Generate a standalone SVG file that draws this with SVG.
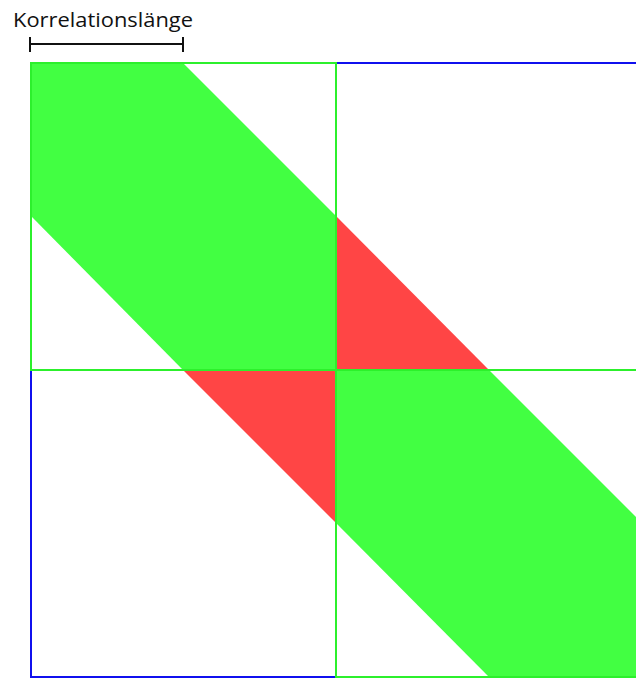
<svg xmlns="http://www.w3.org/2000/svg" width="636" height="678" viewBox="0 0 636 678">
<style>
.g{fill:#42ff42}
.r{fill:#ff4545}
.sq{fill:none;stroke:#2cf02c;stroke-width:2}
.outer{fill:none;stroke:#1010ee;stroke-width:2}
.bar{stroke:#111;stroke-width:2;fill:none}
.lbl{font-family:"Open Sans","Liberation Sans",sans-serif;font-size:20px;fill:#111}
</style>
<rect width="636" height="678" fill="#fff"/>
<g id="outer-square"><rect class="outer" x="31" y="63" width="612" height="614"/></g>
<g id="band">
<polygon class="g" points="31,63 183,63 336,216 336,370 183,370 31,216"/>
<polygon class="r" points="336,216 336,370 489,370"/>
<polygon class="r" points="183,370 336,370 336,523"/>
<polygon class="g" points="336,370 489,370 643,524 643,677 489,677 336,523"/>
</g>
<g id="blocks">
<rect class="sq" x="31" y="63" width="305" height="307"/>
<rect class="sq" x="336" y="370" width="307" height="307"/>
</g>
<g id="scale">
<path class="bar" d="M30,44 H183 M30,37 V52 M183,37 V52"/>
<text class="lbl" x="13" y="27" textLength="180" lengthAdjust="spacingAndGlyphs">Korrelationslänge</text>
</g>
</svg>
